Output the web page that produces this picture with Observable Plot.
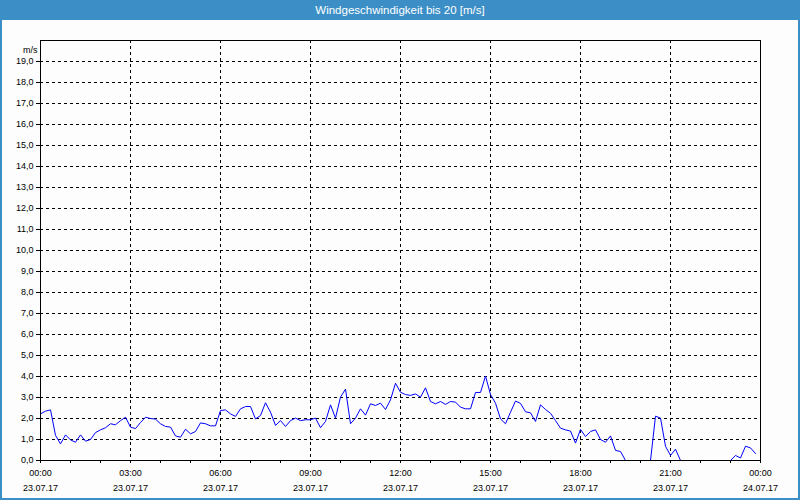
<!DOCTYPE html>
<html>
<head>
<meta charset="utf-8">
<script src="https://cdn.jsdelivr.net/npm/d3@7"></script>
<script src="https://cdn.jsdelivr.net/npm/@observablehq/plot@0.6"></script>
<style>
  html, body { margin: 0; padding: 0; }
  #wrap { position: relative; width: 800px; height: 500px; background: #3c8fc6; overflow: hidden; }
  #title { position: absolute; left: 0; top: 0; width: 800px; height: 20px; line-height: 20px; text-align: center;
           color: #ffffff; font-family: "Liberation Sans", Arial, sans-serif; font-size: 11.5px; }
  #chart { position: absolute; left: 2px; top: 20px; width: 796px; height: 478px; background: #fcfdfc; }
</style>
</head>
<body>
<div id="wrap">
  <div id="title">Windgeschwindigkeit bis 20 [m/s]</div>
  <div id="chart"></div>
</div>
<script>
// Title and units
const title = "Windgeschwindigkeit bis 20 [m/s]";
const unit = "m/s";

// X tick labels (hours of day) and dates
const xTickHours = [0, 3, 6, 9, 12, 15, 18, 21, 24];
const xTickTimes = ["00:00", "03:00", "06:00", "09:00", "12:00", "15:00", "18:00", "21:00", "00:00"];
const xTickDates = ["23.07.17", "23.07.17", "23.07.17", "23.07.17", "23.07.17", "23.07.17", "23.07.17", "23.07.17", "24.07.17"];
const minorTickHours = [1, 2, 4, 5, 7, 8, 10, 11, 13, 14, 16, 17, 19, 20, 22, 23];

// Y ticks (m/s)
const yTicks = [0, 1, 2, 3, 4, 5, 6, 7, 8, 9, 10, 11, 12, 13, 14, 15, 16, 17, 18, 19];

// Wind speed [m/s], 10-minute samples from 00:00 to 23:50 on 23.07.17
const windSpeed = [
  2.22, 2.35, 2.41, 1.20, 0.79, 1.22,   // 00:00-00:50
  0.98, 0.87, 1.22, 0.92, 1.00, 1.33,   // 01:00
  1.46, 1.56, 1.75, 1.70, 1.90, 2.06,   // 02:00
  1.59, 1.52, 1.81, 2.06, 2.00, 1.97,   // 03:00
  1.75, 1.62, 1.59, 1.17, 1.11, 1.49,   // 04:00
  1.27, 1.38, 1.79, 1.75, 1.65, 1.65,   // 05:00
  2.38, 2.41, 2.22, 2.10, 2.46, 2.57,   // 06:00
  2.57, 1.98, 2.14, 2.75, 2.30, 1.67,   // 07:00
  1.90, 1.62, 1.90, 2.02, 1.90, 1.94,   // 08:00
  1.94, 2.02, 1.56, 1.86, 2.65, 2.02,   // 09:00
  3.02, 3.40, 1.75, 2.02, 2.46, 2.16,   // 10:00
  2.70, 2.62, 2.73, 2.43, 2.89, 3.68,   // 11:00
  3.25, 3.14, 3.10, 3.17, 3.02, 3.46,   // 12:00
  2.81, 2.70, 2.81, 2.67, 2.81, 2.78,   // 13:00
  2.54, 2.46, 2.46, 3.24, 3.24, 4.02,   // 14:00
  3.14, 2.73, 1.98, 1.75, 2.30, 2.83,   // 15:00
  2.72, 2.32, 2.27, 1.86, 2.65, 2.43,   // 16:00
  2.25, 1.90, 1.54, 1.46, 1.40, 0.83,   // 17:00
  1.48, 1.14, 1.38, 1.46, 1.00, 0.87,   // 18:00
  1.17, 0.48, 0.43, 0.00, 0.00, 0.00,   // 19:00
  0.00, 0.00, 0.00, 2.11, 2.02, 0.68,   // 20:00
  0.24, 0.54, 0.00, 0.00, 0.00, 0.00,   // 21:00
  0.00, 0.00, 0.00, 0.00, 0.00, 0.00,   // 22:00
  0.00, 0.24, 0.12, 0.68, 0.60, 0.33    // 23:00
];

const data = windSpeed.map((v, i) => ({hour: i / 6, v}));
const fmtY = d => d.toFixed(1).replace(".", ",");
const timeOf = new Map(xTickHours.map((h, i) => [h, xTickTimes[i]]));
const dateOf = new Map(xTickHours.map((h, i) => [h, xTickDates[i]]));

const chart = Plot.plot({
  width: 796,
  height: 478,
  marginLeft: 38,
  marginRight: 38,
  marginTop: 20,
  marginBottom: 38,
  style: {fontFamily: "'Liberation Sans', Arial, sans-serif", fontSize: "9px", color: "#000", background: "transparent"},
  x: {domain: [0, 24]},
  y: {domain: [0, 20]},
  marks: [
    Plot.gridX(xTickHours.filter(h => h > 0 && h < 24), {stroke: "#000", strokeOpacity: 1, strokeDasharray: "3,3"}),
    Plot.gridY(yTicks.filter(v => v > 0), {stroke: "#000", strokeOpacity: 1, strokeDasharray: "3,3"}),
    Plot.line(data, {x: "hour", y: "v", stroke: "#0000ff", strokeWidth: 1}),
    Plot.frame({stroke: "#000"}),
    Plot.axisY({ticks: yTicks, tickSize: 4, tickPadding: 3, tickFormat: fmtY, label: null}),
    Plot.axisX({ticks: minorTickHours.concat(xTickHours), tickSize: 3, tickFormat: () => "", label: null}),
    Plot.axisX({ticks: xTickHours, tickSize: 0, tickPadding: 9, tickFormat: h => timeOf.get(h), label: null}),
    Plot.axisX({ticks: xTickHours, tickSize: 0, tickPadding: 24, tickFormat: h => dateOf.get(h), label: null}),
    Plot.text([unit], {frameAnchor: "top-left", dx: -3, dy: 6, textAnchor: "end"})
  ]
});
document.getElementById("chart").appendChild(chart);
</script>
</body>
</html>
